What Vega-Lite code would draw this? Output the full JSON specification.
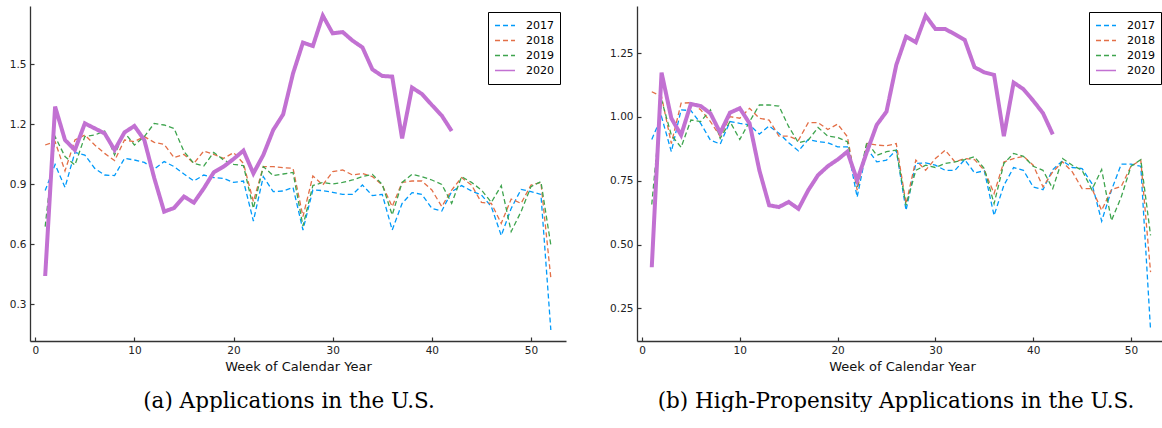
{
"$schema": "https://vega.github.io/schema/vega-lite/v6.json",
"padding": {"left": 0, "top": 6, "right": 0, "bottom": 0},
"background": "white",
"config": {
  "view": {"stroke": null},
  "axis": {"domainColor": "#333", "tickColor": "#333", "domainWidth": 1.3, "tickWidth": 1.2, "grid": false, "labelFont": "DejaVu Sans", "labelFontSize": 10.5, "labelColor": "#222", "titleFont": "DejaVu Sans", "titleFontSize": 13, "titleFontWeight": "normal", "titleColor": "#111", "tickSize": -4, "labelPadding": 8},
  "legend": {"title": null, "orient": "top-right", "offset": 6, "strokeColor": "#000", "fillColor": "#fff", "padding": 6, "symbolType": "stroke", "symbolSize": 400, "clipHeight": 15, "symbolStrokeWidth": 1.5, "labelFont": "DejaVu Sans", "labelFontSize": 11, "labelColor": "#000", "labelOffset": 10, "rowPadding": 0},
  "title": {"font": "DejaVu Serif", "fontSize": 21.5, "fontWeight": "normal", "color": "#000"}
},
"datasets": {
"apps": [
{"w":1,"y":"2017","v":0.867},{"w":2,"y":"2017","v":0.998},{"w":3,"y":"2017","v":0.883},{"w":4,"y":"2017","v":1.058},{"w":5,"y":"2017","v":1.045},{"w":6,"y":"2017","v":0.978},{"w":7,"y":"2017","v":0.945},{"w":8,"y":"2017","v":0.942},{"w":9,"y":"2017","v":1.028},{"w":10,"y":"2017","v":1.02},
{"w":11,"y":"2017","v":1.008},{"w":12,"y":"2017","v":0.975},{"w":13,"y":"2017","v":1.012},{"w":14,"y":"2017","v":0.987},{"w":15,"y":"2017","v":0.95},{"w":16,"y":"2017","v":0.915},{"w":17,"y":"2017","v":0.945},{"w":18,"y":"2017","v":0.932},{"w":19,"y":"2017","v":0.928},{"w":20,"y":"2017","v":0.908},
{"w":21,"y":"2017","v":0.915},{"w":22,"y":"2017","v":0.715},{"w":23,"y":"2017","v":0.937},{"w":24,"y":"2017","v":0.862},{"w":25,"y":"2017","v":0.865},{"w":26,"y":"2017","v":0.883},{"w":27,"y":"2017","v":0.67},{"w":28,"y":"2017","v":0.87},{"w":29,"y":"2017","v":0.867},{"w":30,"y":"2017","v":0.858},
{"w":31,"y":"2017","v":0.848},{"w":32,"y":"2017","v":0.848},{"w":33,"y":"2017","v":0.895},{"w":34,"y":"2017","v":0.842},{"w":35,"y":"2017","v":0.848},{"w":36,"y":"2017","v":0.67},{"w":37,"y":"2017","v":0.803},{"w":38,"y":"2017","v":0.857},{"w":39,"y":"2017","v":0.848},{"w":40,"y":"2017","v":0.778},
{"w":41,"y":"2017","v":0.765},{"w":42,"y":"2017","v":0.862},{"w":43,"y":"2017","v":0.892},{"w":44,"y":"2017","v":0.865},{"w":45,"y":"2017","v":0.845},{"w":46,"y":"2017","v":0.787},{"w":47,"y":"2017","v":0.642},{"w":48,"y":"2017","v":0.778},{"w":49,"y":"2017","v":0.873},{"w":50,"y":"2017","v":0.862},
{"w":51,"y":"2017","v":0.848},{"w":52,"y":"2017","v":0.17},
{"w":1,"y":"2018","v":1.095},{"w":2,"y":"2018","v":1.112},{"w":3,"y":"2018","v":0.965},{"w":4,"y":"2018","v":1.12},{"w":5,"y":"2018","v":1.145},{"w":6,"y":"2018","v":1.095},{"w":7,"y":"2018","v":1.053},{"w":8,"y":"2018","v":1.017},{"w":9,"y":"2018","v":1.12},{"w":10,"y":"2018","v":1.112},
{"w":11,"y":"2018","v":1.137},{"w":12,"y":"2018","v":1.108},{"w":13,"y":"2018","v":1.098},{"w":14,"y":"2018","v":1.032},{"w":15,"y":"2018","v":1.048},{"w":16,"y":"2018","v":1.003},{"w":17,"y":"2018","v":1.065},{"w":18,"y":"2018","v":1.048},{"w":19,"y":"2018","v":1.028},{"w":20,"y":"2018","v":1.057},
{"w":21,"y":"2018","v":1.003},{"w":22,"y":"2018","v":0.812},{"w":23,"y":"2018","v":0.987},{"w":24,"y":"2018","v":0.987},{"w":25,"y":"2018","v":0.982},{"w":26,"y":"2018","v":0.978},{"w":27,"y":"2018","v":0.737},{"w":28,"y":"2018","v":0.94},{"w":29,"y":"2018","v":0.895},{"w":30,"y":"2018","v":0.962},
{"w":31,"y":"2018","v":0.97},{"w":32,"y":"2018","v":0.945},{"w":33,"y":"2018","v":0.953},{"w":34,"y":"2018","v":0.937},{"w":35,"y":"2018","v":0.895},{"w":36,"y":"2018","v":0.787},{"w":37,"y":"2018","v":0.908},{"w":38,"y":"2018","v":0.915},{"w":39,"y":"2018","v":0.915},{"w":40,"y":"2018","v":0.87},
{"w":41,"y":"2018","v":0.787},{"w":42,"y":"2018","v":0.87},{"w":43,"y":"2018","v":0.932},{"w":44,"y":"2018","v":0.895},{"w":45,"y":"2018","v":0.808},{"w":46,"y":"2018","v":0.803},{"w":47,"y":"2018","v":0.703},{"w":48,"y":"2018","v":0.825},{"w":49,"y":"2018","v":0.803},{"w":50,"y":"2018","v":0.895},
{"w":51,"y":"2018","v":0.908},{"w":52,"y":"2018","v":0.43},
{"w":1,"y":"2019","v":0.687},{"w":2,"y":"2019","v":1.137},{"w":3,"y":"2019","v":1.037},{"w":4,"y":"2019","v":0.995},{"w":5,"y":"2019","v":1.137},{"w":6,"y":"2019","v":1.145},{"w":7,"y":"2019","v":1.165},{"w":8,"y":"2019","v":1.045},{"w":9,"y":"2019","v":1.158},{"w":10,"y":"2019","v":1.095},
{"w":11,"y":"2019","v":1.137},{"w":12,"y":"2019","v":1.203},{"w":13,"y":"2019","v":1.195},{"w":14,"y":"2019","v":1.178},{"w":15,"y":"2019","v":1.062},{"w":16,"y":"2019","v":1.003},{"w":17,"y":"2019","v":0.99},{"w":18,"y":"2019","v":1.058},{"w":19,"y":"2019","v":1.02},{"w":20,"y":"2019","v":0.998},
{"w":21,"y":"2019","v":0.992},{"w":22,"y":"2019","v":0.778},{"w":23,"y":"2019","v":0.987},{"w":24,"y":"2019","v":0.942},{"w":25,"y":"2019","v":0.95},{"w":26,"y":"2019","v":0.958},{"w":27,"y":"2019","v":0.69},{"w":28,"y":"2019","v":0.892},{"w":29,"y":"2019","v":0.908},{"w":30,"y":"2019","v":0.9},
{"w":31,"y":"2019","v":0.908},{"w":32,"y":"2019","v":0.92},{"w":33,"y":"2019","v":0.937},{"w":34,"y":"2019","v":0.948},{"w":35,"y":"2019","v":0.898},{"w":36,"y":"2019","v":0.745},{"w":37,"y":"2019","v":0.908},{"w":38,"y":"2019","v":0.948},{"w":39,"y":"2019","v":0.937},{"w":40,"y":"2019","v":0.92},
{"w":41,"y":"2019","v":0.898},{"w":42,"y":"2019","v":0.803},{"w":43,"y":"2019","v":0.937},{"w":44,"y":"2019","v":0.908},{"w":45,"y":"2019","v":0.87},{"w":46,"y":"2019","v":0.808},{"w":47,"y":"2019","v":0.892},{"w":48,"y":"2019","v":0.662},{"w":49,"y":"2019","v":0.762},{"w":50,"y":"2019","v":0.887},
{"w":51,"y":"2019","v":0.912},{"w":52,"y":"2019","v":0.595},
{"w":1,"y":"2020","v":0.44},{"w":2,"y":"2020","v":1.287},{"w":3,"y":"2020","v":1.12},{"w":4,"y":"2020","v":1.07},{"w":5,"y":"2020","v":1.203},{"w":6,"y":"2020","v":1.178},{"w":7,"y":"2020","v":1.153},{"w":8,"y":"2020","v":1.07},{"w":9,"y":"2020","v":1.158},{"w":10,"y":"2020","v":1.19},
{"w":11,"y":"2020","v":1.12},{"w":12,"y":"2020","v":0.93},{"w":13,"y":"2020","v":0.762},{"w":14,"y":"2020","v":0.78},{"w":15,"y":"2020","v":0.837},{"w":16,"y":"2020","v":0.807},{"w":17,"y":"2020","v":0.878},{"w":18,"y":"2020","v":0.958},{"w":19,"y":"2020","v":0.987},{"w":20,"y":"2020","v":1.025},
{"w":21,"y":"2020","v":1.067},{"w":22,"y":"2020","v":0.953},{"w":23,"y":"2020","v":1.045},{"w":24,"y":"2020","v":1.17},{"w":25,"y":"2020","v":1.248},{"w":26,"y":"2020","v":1.453},{"w":27,"y":"2020","v":1.607},{"w":28,"y":"2020","v":1.59},{"w":29,"y":"2020","v":1.742},{"w":30,"y":"2020","v":1.653},
{"w":31,"y":"2020","v":1.66},{"w":32,"y":"2020","v":1.617},{"w":33,"y":"2020","v":1.583},{"w":34,"y":"2020","v":1.473},{"w":35,"y":"2020","v":1.44},{"w":36,"y":"2020","v":1.437},{"w":37,"y":"2020","v":1.128},{"w":38,"y":"2020","v":1.382},{"w":39,"y":"2020","v":1.35},{"w":40,"y":"2020","v":1.295},
{"w":41,"y":"2020","v":1.242},{"w":42,"y":"2020","v":1.165}
],
"hp": [
{"w":1,"y":"2017","v":0.912},{"w":2,"y":"2017","v":1.001},{"w":3,"y":"2017","v":0.864},{"w":4,"y":"2017","v":1.028},{"w":5,"y":"2017","v":1.025},{"w":6,"y":"2017","v":0.975},{"w":7,"y":"2017","v":0.909},{"w":8,"y":"2017","v":0.894},{"w":9,"y":"2017","v":0.982},{"w":10,"y":"2017","v":0.975},
{"w":11,"y":"2017","v":0.969},{"w":12,"y":"2017","v":0.933},{"w":13,"y":"2017","v":0.965},{"w":14,"y":"2017","v":0.936},{"w":15,"y":"2017","v":0.899},{"w":16,"y":"2017","v":0.867},{"w":17,"y":"2017","v":0.912},{"w":18,"y":"2017","v":0.903},{"w":19,"y":"2017","v":0.899},{"w":20,"y":"2017","v":0.883},
{"w":21,"y":"2017","v":0.883},{"w":22,"y":"2017","v":0.686},{"w":23,"y":"2017","v":0.877},{"w":24,"y":"2017","v":0.824},{"w":25,"y":"2017","v":0.831},{"w":26,"y":"2017","v":0.87},{"w":27,"y":"2017","v":0.634},{"w":28,"y":"2017","v":0.818},{"w":29,"y":"2017","v":0.82},{"w":30,"y":"2017","v":0.811},
{"w":31,"y":"2017","v":0.791},{"w":32,"y":"2017","v":0.791},{"w":33,"y":"2017","v":0.833},{"w":34,"y":"2017","v":0.781},{"w":35,"y":"2017","v":0.789},{"w":36,"y":"2017","v":0.614},{"w":37,"y":"2017","v":0.732},{"w":38,"y":"2017","v":0.802},{"w":39,"y":"2017","v":0.791},{"w":40,"y":"2017","v":0.726},
{"w":41,"y":"2017","v":0.715},{"w":42,"y":"2017","v":0.794},{"w":43,"y":"2017","v":0.828},{"w":44,"y":"2017","v":0.802},{"w":45,"y":"2017","v":0.798},{"w":46,"y":"2017","v":0.739},{"w":47,"y":"2017","v":0.592},{"w":48,"y":"2017","v":0.713},{"w":49,"y":"2017","v":0.815},{"w":50,"y":"2017","v":0.815},
{"w":51,"y":"2017","v":0.807},{"w":52,"y":"2017","v":0.164},
{"w":1,"y":"2018","v":1.099},{"w":2,"y":"2018","v":1.08},{"w":3,"y":"2018","v":0.896},{"w":4,"y":"2018","v":1.054},{"w":5,"y":"2018","v":1.056},{"w":6,"y":"2018","v":1.028},{"w":7,"y":"2018","v":0.982},{"w":8,"y":"2018","v":0.923},{"w":9,"y":"2018","v":1.001},{"w":10,"y":"2018","v":0.995},
{"w":11,"y":"2018","v":1.034},{"w":12,"y":"2018","v":0.995},{"w":13,"y":"2018","v":0.988},{"w":14,"y":"2018","v":0.925},{"w":15,"y":"2018","v":0.925},{"w":16,"y":"2018","v":0.909},{"w":17,"y":"2018","v":0.978},{"w":18,"y":"2018","v":0.978},{"w":19,"y":"2018","v":0.951},{"w":20,"y":"2018","v":0.972},
{"w":21,"y":"2018","v":0.923},{"w":22,"y":"2018","v":0.713},{"w":23,"y":"2018","v":0.896},{"w":24,"y":"2018","v":0.89},{"w":25,"y":"2018","v":0.887},{"w":26,"y":"2018","v":0.896},{"w":27,"y":"2018","v":0.66},{"w":28,"y":"2018","v":0.831},{"w":29,"y":"2018","v":0.791},{"w":30,"y":"2018","v":0.837},
{"w":31,"y":"2018","v":0.87},{"w":32,"y":"2018","v":0.824},{"w":33,"y":"2018","v":0.837},{"w":34,"y":"2018","v":0.833},{"w":35,"y":"2018","v":0.791},{"w":36,"y":"2018","v":0.7},{"w":37,"y":"2018","v":0.824},{"w":38,"y":"2018","v":0.837},{"w":39,"y":"2018","v":0.846},{"w":40,"y":"2018","v":0.811},
{"w":41,"y":"2018","v":0.726},{"w":42,"y":"2018","v":0.785},{"w":43,"y":"2018","v":0.824},{"w":44,"y":"2018","v":0.785},{"w":45,"y":"2018","v":0.719},{"w":46,"y":"2018","v":0.719},{"w":47,"y":"2018","v":0.634},{"w":48,"y":"2018","v":0.715},{"w":49,"y":"2018","v":0.728},{"w":50,"y":"2018","v":0.807},
{"w":51,"y":"2018","v":0.831},{"w":52,"y":"2018","v":0.392},
{"w":1,"y":"2019","v":0.657},{"w":2,"y":"2019","v":1.067},{"w":3,"y":"2019","v":0.929},{"w":4,"y":"2019","v":0.881},{"w":5,"y":"2019","v":0.988},{"w":6,"y":"2019","v":0.982},{"w":7,"y":"2019","v":1.028},{"w":8,"y":"2019","v":0.916},{"w":9,"y":"2019","v":0.982},{"w":10,"y":"2019","v":0.912},
{"w":11,"y":"2019","v":0.982},{"w":12,"y":"2019","v":1.047},{"w":13,"y":"2019","v":1.047},{"w":14,"y":"2019","v":1.043},{"w":15,"y":"2019","v":0.962},{"w":16,"y":"2019","v":0.899},{"w":17,"y":"2019","v":0.909},{"w":18,"y":"2019","v":0.959},{"w":19,"y":"2019","v":0.925},{"w":20,"y":"2019","v":0.92},
{"w":21,"y":"2019","v":0.903},{"w":22,"y":"2019","v":0.726},{"w":23,"y":"2019","v":0.903},{"w":24,"y":"2019","v":0.85},{"w":25,"y":"2019","v":0.864},{"w":26,"y":"2019","v":0.87},{"w":27,"y":"2019","v":0.654},{"w":28,"y":"2019","v":0.791},{"w":29,"y":"2019","v":0.811},{"w":30,"y":"2019","v":0.802},
{"w":31,"y":"2019","v":0.818},{"w":32,"y":"2019","v":0.824},{"w":33,"y":"2019","v":0.833},{"w":34,"y":"2019","v":0.844},{"w":35,"y":"2019","v":0.798},{"w":36,"y":"2019","v":0.66},{"w":37,"y":"2019","v":0.818},{"w":38,"y":"2019","v":0.857},{"w":39,"y":"2019","v":0.846},{"w":40,"y":"2019","v":0.807},
{"w":41,"y":"2019","v":0.791},{"w":42,"y":"2019","v":0.719},{"w":43,"y":"2019","v":0.837},{"w":44,"y":"2019","v":0.811},{"w":45,"y":"2019","v":0.791},{"w":46,"y":"2019","v":0.715},{"w":47,"y":"2019","v":0.794},{"w":48,"y":"2019","v":0.594},{"w":49,"y":"2019","v":0.686},{"w":50,"y":"2019","v":0.807},
{"w":51,"y":"2019","v":0.833},{"w":52,"y":"2019","v":0.536},
{"w":1,"y":"2020","v":0.411},{"w":2,"y":"2020","v":1.174},{"w":3,"y":"2020","v":0.995},{"w":4,"y":"2020","v":0.929},{"w":5,"y":"2020","v":1.051},{"w":6,"y":"2020","v":1.043},{"w":7,"y":"2020","v":1.014},{"w":8,"y":"2020","v":0.938},{"w":9,"y":"2020","v":1.017},{"w":10,"y":"2020","v":1.034},
{"w":11,"y":"2020","v":0.975},{"w":12,"y":"2020","v":0.791},{"w":13,"y":"2020","v":0.654},{"w":14,"y":"2020","v":0.647},{"w":15,"y":"2020","v":0.667},{"w":16,"y":"2020","v":0.64},{"w":17,"y":"2020","v":0.713},{"w":18,"y":"2020","v":0.772},{"w":19,"y":"2020","v":0.807},{"w":20,"y":"2020","v":0.833},
{"w":21,"y":"2020","v":0.864},{"w":22,"y":"2020","v":0.752},{"w":23,"y":"2020","v":0.864},{"w":24,"y":"2020","v":0.969},{"w":25,"y":"2020","v":1.021},{"w":26,"y":"2020","v":1.204},{"w":27,"y":"2020","v":1.315},{"w":28,"y":"2020","v":1.293},{"w":29,"y":"2020","v":1.397},{"w":30,"y":"2020","v":1.345},
{"w":31,"y":"2020","v":1.345},{"w":32,"y":"2020","v":1.324},{"w":33,"y":"2020","v":1.302},{"w":34,"y":"2020","v":1.195},{"w":35,"y":"2020","v":1.175},{"w":36,"y":"2020","v":1.165},{"w":37,"y":"2020","v":0.925},{"w":38,"y":"2020","v":1.135},{"w":39,"y":"2020","v":1.109},{"w":40,"y":"2020","v":1.064},
{"w":41,"y":"2020","v":1.015},{"w":42,"y":"2020","v":0.932}
]
},
"hconcat": [
{
  "width": 536, "height": 335,
  "title": {"text": "(a) Applications in the U.S.", "orient": "bottom", "offset": 17, "dx": -9},
  "data": {"name": "apps"},
  "encoding": {
    "x": {"field": "w", "type": "quantitative", "scale": {"domain": [-0.53, 53.53], "nice": false, "zero": false}, "axis": {"title": "Week of Calendar Year", "values": [0, 10, 20, 30, 40, 50], "titlePadding": 5}},
    "y": {"field": "v", "type": "quantitative", "scale": {"domain": [0.115, 1.79], "nice": false, "zero": false}, "axis": {"title": null, "values": [0.3, 0.6, 0.9, 1.2, 1.5], "format": ".1f", "minExtent": 30, "maxExtent": 30}},
    "color": {"field": "y", "type": "nominal", "scale": {"domain": ["2017", "2018", "2019", "2020"], "range": ["#009AFA", "#E36F47", "#3EA44E", "#C271D2"]}, "legend": {"title": null}},
    "strokeDash": {"field": "y", "type": "nominal", "scale": {"domain": ["2017", "2018", "2019", "2020"], "range": [[5, 3], [5, 3], [5, 3], [1, 0]]}, "legend": {"title": null}}
  },
  "layer": [
    {"transform": [{"filter": "datum.y != '2020'"}], "mark": {"type": "line", "strokeWidth": 1.3}},
    {"transform": [{"filter": "datum.y == '2020'"}], "mark": {"type": "line", "strokeWidth": 4}}
  ]
},
{
  "width": 530, "height": 335,
  "title": {"text": "(b) High-Propensity Applications in the U.S.", "orient": "bottom", "offset": 17, "dx": -6},
  "data": {"name": "hp"},
  "encoding": {
    "x": {"field": "w", "type": "quantitative", "scale": {"domain": [-0.51, 53.68], "nice": false, "zero": false}, "axis": {"title": "Week of Calendar Year", "values": [0, 10, 20, 30, 40, 50], "titlePadding": 5}},
    "y": {"field": "v", "type": "quantitative", "scale": {"domain": [0.122, 1.435], "nice": false, "zero": false}, "axis": {"title": null, "values": [0.25, 0.5, 0.75, 1.0, 1.25], "format": ".2f", "minExtent": 35, "maxExtent": 35}},
    "color": {"field": "y", "type": "nominal", "scale": {"domain": ["2017", "2018", "2019", "2020"], "range": ["#009AFA", "#E36F47", "#3EA44E", "#C271D2"]}, "legend": {"title": null}},
    "strokeDash": {"field": "y", "type": "nominal", "scale": {"domain": ["2017", "2018", "2019", "2020"], "range": [[5, 3], [5, 3], [5, 3], [1, 0]]}, "legend": {"title": null}}
  },
  "layer": [
    {"transform": [{"filter": "datum.y != '2020'"}], "mark": {"type": "line", "strokeWidth": 1.3}},
    {"transform": [{"filter": "datum.y == '2020'"}], "mark": {"type": "line", "strokeWidth": 4}}
  ]
}
],
"spacing": 36,
"resolve": {"scale": {"x": "independent", "y": "independent", "color": "independent", "strokeDash": "independent"}, "legend": {"color": "independent", "strokeDash": "independent"}}
}
